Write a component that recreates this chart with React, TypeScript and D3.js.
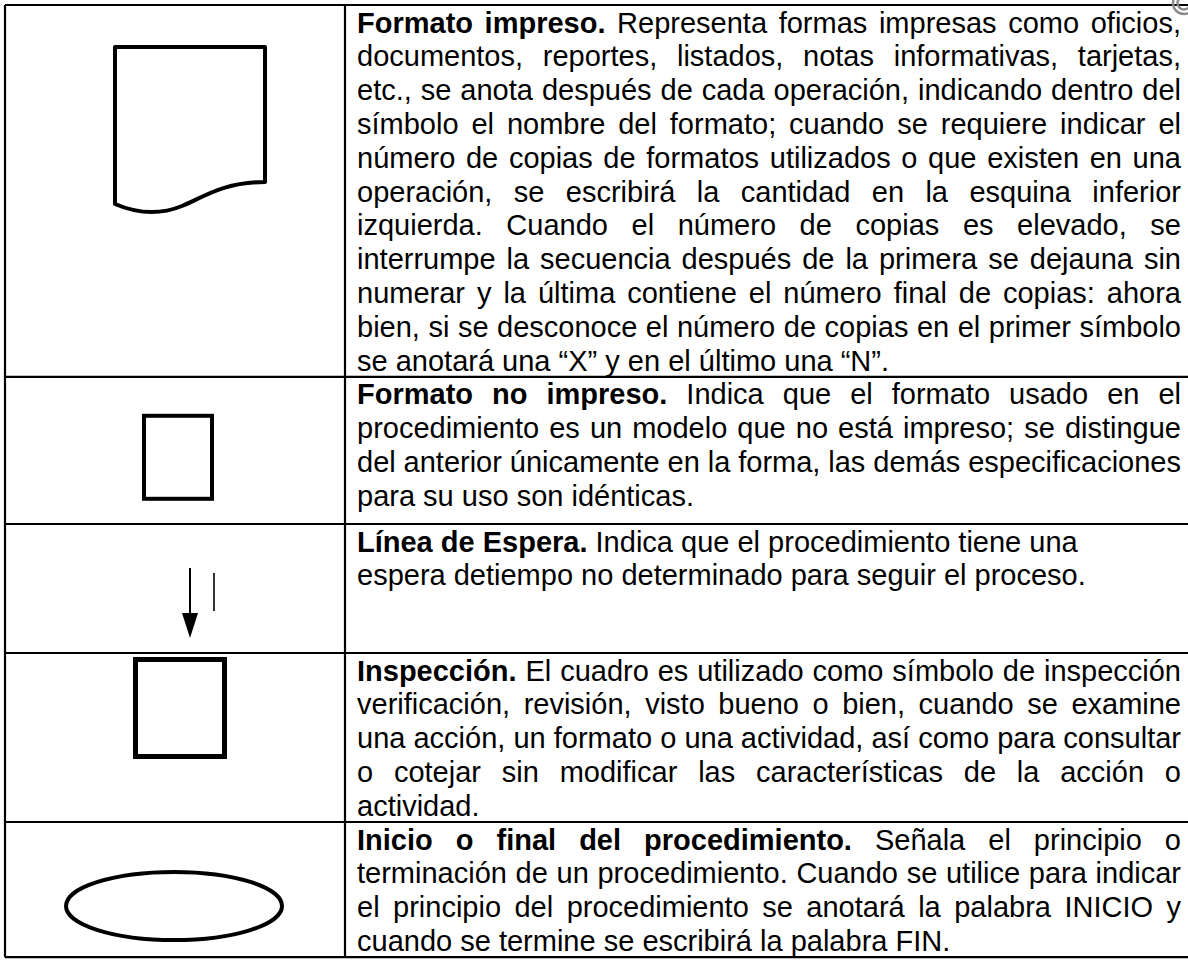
import React, { useEffect, useRef } from 'react';
import * as d3 from 'd3';

// table content, one entry per row
const titles = [
  'Formato impreso.',
  'Formato no impreso.',
  'Línea de Espera.',
  'Inspección.',
  'Inicio o final del procedimiento.',
];

const symbols = ['document', 'square', 'wait', 'inspection', 'terminal'];

const row1Lines = [
  'Representa formas impresas como oficios,',
  'documentos, reportes, listados, notas informativas, tarjetas,',
  'etc., se anota después de cada operación, indicando dentro del',
  'símbolo el nombre del formato; cuando se requiere indicar el',
  'número de copias de formatos utilizados o que existen en una',
  'operación, se escribirá la cantidad en la esquina inferior',
  'izquierda. Cuando el número de copias es elevado, se',
  'interrumpe la secuencia después de la primera se dejauna sin',
  'numerar y la última contiene el número final de copias: ahora',
  'bien, si se desconoce el número de copias en el primer símbolo',
  'se anotará una “X” y en el último una “N”.',
];

const row2Lines = [
  'Indica que el formato usado en el',
  'procedimiento es un modelo que no está impreso; se distingue',
  'del anterior únicamente en la forma, las demás especificaciones',
  'para su uso son idénticas.',
];

const row3Lines = [
  'Indica que el procedimiento tiene una',
  'espera detiempo no determinado para seguir el proceso.',
];

const row4Lines = [
  'El cuadro es utilizado como símbolo de inspección',
  'verificación, revisión, visto bueno o bien, cuando se examine',
  'una acción, un formato o una actividad, así como para consultar',
  'o cotejar sin modificar las características de la acción o',
  'actividad.',
];

const row5Lines = [
  'Señala el principio o',
  'terminación de un procedimiento. Cuando se utilice para indicar',
  'el principio del procedimiento se anotará la palabra INICIO y',
  'cuando se termine se escribirá la palabra FIN.',
];

const rowLines = [row1Lines, row2Lines, row3Lines, row4Lines, row5Lines];
const justified = [true, true, false, true, true];

const W = 1188;
const H = 960;
const FONT = 29;
const PITCH = 33.8;
const LEFT = 5;
const TOP = 5;
const COL = 345;
const TEXT_X = 357;
const TEXT_R = 1181;
// extra blank space below the text of each row
const rowExtra = [0, 12, 61.4, 0, 0];

const App: React.FC = () => {
  const svgRef = useRef<SVGSVGElement | null>(null);

  useEffect(() => {
    if (!svgRef.current) return;
    const svg = d3.select(svgRef.current);
    svg.selectAll('*').remove();

    svg.append('rect').attr('width', W).attr('height', H).attr('fill', '#fff');

    // row boundaries
    const tops: number[] = [TOP];
    rowLines.forEach((ls, i) => tops.push(tops[i] + ls.length * PITCH + rowExtra[i]));
    const bottom = tops[tops.length - 1];

    const grid = svg.append('g').attr('stroke', '#000').attr('stroke-width', 2.2);
    tops.forEach(y => {
      grid.append('line').attr('x1', LEFT).attr('x2', W + 5).attr('y1', y).attr('y2', y);
    });
    grid.append('line').attr('x1', LEFT).attr('x2', LEFT).attr('y1', TOP).attr('y2', bottom);
    grid.append('line').attr('x1', COL).attr('x2', COL).attr('y1', TOP).attr('y2', bottom);

    // text, set word by word so lines can be justified
    const txt = svg.append('g')
      .attr('font-family', 'Arial, "Liberation Sans", sans-serif')
      .attr('font-size', FONT)
      .attr('fill', '#000');
    const space = FONT * 0.278;
    const avail = TEXT_R - TEXT_X;

    rowLines.forEach((ls, r) => {
      ls.forEach((line, li) => {
        const y = tops[r] + 27.5 + li * PITCH;
        const words: { w: string; bold: boolean }[] = [];
        if (li === 0) titles[r].split(' ').forEach(w => words.push({ w, bold: true }));
        line.split(' ').forEach(w => words.push({ w, bold: false }));
        const nodes = words.map(d => txt.append('text')
          .attr('y', y)
          .attr('font-weight', d.bold ? 'bold' : 'normal')
          .text(d.w));
        const widths = nodes.map(n => (n.node() as SVGTextElement).getComputedTextLength());
        const total = d3.sum(widths) + space * (words.length - 1);
        const last = li === ls.length - 1;
        const gap = justified[r] && !last && words.length > 1
          ? space + (avail - total) / (words.length - 1)
          : space;
        let x = TEXT_X;
        nodes.forEach((n, k) => {
          n.attr('x', x);
          x += widths[k] + gap;
        });
      });
    });

    // symbols
    const sym = svg.append('g').attr('fill', 'none').attr('stroke', '#000');
    symbols.forEach((s, r) => {
      if (s === 'document') {
        sym.append('path')
          .attr('d', 'M115,47 H265 V182 C222,182 202,198 182,206 C160,215 136,213 115,204 Z')
          .attr('stroke-width', 4).attr('stroke-linejoin', 'round');
      } else if (s === 'square') {
        sym.append('rect').attr('x', 144).attr('y', tops[r] + 39).attr('width', 68).attr('height', 83)
          .attr('stroke-width', 4);
      } else if (s === 'wait') {
        const t = tops[r];
        sym.append('line').attr('x1', 190).attr('x2', 190).attr('y1', t + 44).attr('y2', t + 96)
          .attr('stroke-width', 2);
        svg.append('path')
          .attr('d', `M182,${t + 89} L198,${t + 89} L190,${t + 114} Z`)
          .attr('fill', '#000');
        sym.append('line').attr('x1', 214).attr('x2', 214).attr('y1', t + 49).attr('y2', t + 87)
          .attr('stroke-width', 1.6);
      } else if (s === 'inspection') {
        sym.append('rect').attr('x', 135.5).attr('y', tops[r] + 6.5).attr('width', 89).attr('height', 97)
          .attr('stroke-width', 5);
      } else if (s === 'terminal') {
        sym.append('ellipse').attr('cx', 174).attr('cy', tops[r] + 84).attr('rx', 108).attr('ry', 34)
          .attr('stroke-width', 4);
      }
    });

    // scanner mark in the top right corner
    const ring = d3.arc<any>();
    [11, 6.5].forEach(rad => {
      svg.append('path')
        .attr('transform', 'translate(1184,3)')
        .attr('d', ring({ innerRadius: rad - 1.2, outerRadius: rad + 1.2, startAngle: Math.PI * 0.5, endAngle: Math.PI * 2 }) || '')
        .attr('fill', '#8a8a8a');
    });
  }, []);

  return (
    <svg
      ref={svgRef}
      width={W}
      height={H}
      style={{ position: 'absolute', left: 0, top: 0, display: 'block' }}
    />
  );
};

export default App;
